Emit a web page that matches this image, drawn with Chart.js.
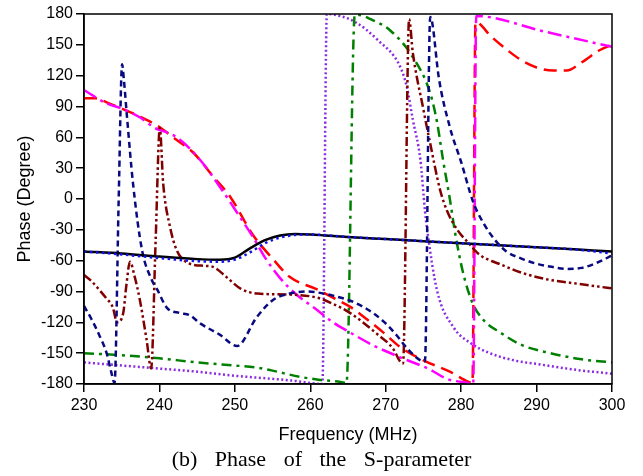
<!DOCTYPE html>
<html>
<head>
<meta charset="utf-8">
<script src="https://cdn.jsdelivr.net/npm/chart.js@4/dist/chart.umd.min.js"></script>
<style>
    body { margin: 0; background: #fff; }
    #wrap { position: relative; width: 643px; height: 476px; }
    #phaseChart { position: absolute; left: 0; top: 0; }
    #caption {
        position: absolute; left: 0; top: 441px; width: 643px; height: 36px;
        line-height: 36px; text-align: center;
        font-family: "Liberation Serif", "Times New Roman", serif;
        font-size: 22px; word-spacing: 12px; color: #000;
    }
</style>
</head>
<body>
<div id="wrap">
    <canvas id="phaseChart" width="643" height="446"></canvas>
    <div id="caption">(b) Phase of the S-parameter</div>
</div>
<script>
// axis ticks
const freqTicks = [230, 240, 250, 260, 270, 280, 290, 300];
const phaseTicks = [-180, -150, -120, -90, -60, -30, 0, 30, 60, 90, 120, 150, 180];

// black solid
const freqBlack = [230, 235, 240, 245, 248, 250, 252, 254, 256, 258, 260, 262, 265, 270, 275, 280, 285, 290, 295, 300];
const phaseBlack = [-51, -53, -56, -58.5, -59, -57, -48, -40, -35.5, -34, -34.5, -35.5, -37, -39, -41, -43, -45, -47, -49, -51];

// blue dotted (sits on the black one)
const freqBlue = [230, 235, 240, 245, 248, 250, 252, 254, 256, 258, 260, 265, 270, 275, 280, 285, 290, 295, 300];
const phaseBlue = [-51, -54, -57.5, -60.5, -61, -59, -52, -43, -37.5, -35, -34.5, -37, -39, -41, -43, -45, -47, -49, -53];

// navy dashed
const freqNavy = [230, 231, 232, 233, 233.6, 234.05, 234.6, 235.05, 235.3, 235.7, 236.5, 237.7, 239, 239.7, 241, 242.7, 244, 245.4, 248, 250.3, 252.9, 255.1, 257.3, 259.5, 261, 263, 265.3, 267.5, 269.7, 271.5, 272.8, 274.6, 275.2, 275.9, 276.2, 277, 278.5, 280, 281.6, 283, 284.5, 286, 288, 290, 292, 294, 296, 298, 300];
const phaseNavy = [-104, -117, -132, -150, -168, -179, 0, 131, 115, 80, 15, -50, -79, -88, -106, -111, -113, -121, -132, -143, -115, -98, -92, -90, -91, -94, -99, -107, -119, -133, -145, -157, -158, 177, 170, 120, 70, 36, -3, -24, -40, -51, -58, -63, -66, -68, -67, -62, -55];

// maroon dash-dot-dot
const freqMaroon = [230, 231, 232.1, 233, 233.8, 234.4, 235.2, 235.6, 236.1, 236.7, 237.4, 238.3, 238.9, 239.5, 240.05, 240.5, 241.4, 242.3, 243.3, 244.5, 246, 247.1, 248.9, 250.7, 253, 257.3, 260.9, 263, 265.3, 268.8, 271, 271.9, 272.3, 273.1, 273.6, 275, 275.9, 277.2, 278.1, 279.5, 281, 282.4, 285, 289, 292, 295, 300];
const phaseMaroon = [-74, -80, -89, -97, -105, -120, -111, -85, -61, -75, -98, -137, -165, -40, 69, 15, -27, -50, -60, -64, -65, -66, -76, -87, -92, -93, -96, -102, -111, -131, -146, -158, -160, 175, 142, 87, 54, 9, -11, -30, -43, -54, -63, -74, -79, -82, -87];

// red dashed
const freqRed = [230, 231.5, 233, 235, 237.5, 240, 241.8, 244.5, 247.1, 249.4, 252.4, 255, 257.3, 260.9, 263, 265.3, 267.5, 269.7, 271.9, 275, 278.5, 281, 281.5, 281.9, 284, 286.1, 288, 290, 292.2, 294, 296, 298.4, 300];
const phaseRed = [98, 98, 94, 88, 80, 70, 60, 45, 22, 2, -35, -58, -76, -88, -96, -105, -117, -130, -144, -157, -168, -178, -179, 172, 158, 145, 135, 128, 125, 125, 133, 145, 150];

// magenta dash-dot
const freqMagenta = [230, 233, 235, 237.5, 239.2, 242.3, 245.4, 248, 250, 252.4, 254, 256, 258, 260.9, 263, 265.3, 268.5, 271.9, 275.9, 278.1, 281, 281.6, 282, 291, 300];
const phaseMagenta = [106, 93, 88, 79, 70, 60, 38, 12, -10, -37, -57, -77, -92, -108, -120, -130, -143, -154, -166, -175, -179, -180, 178, 163, 148];

// green dash-dot
const freqGreen = [230, 235, 240, 245, 250, 252.9, 255, 258.6, 261.3, 264, 264.8, 265.9, 266.5, 268, 270.6, 273.6, 275.9, 276.8, 277.6, 278.5, 279.2, 280.2, 281.5, 283, 285.2, 288, 291.8, 296, 300];
const phaseGreen = [-150, -152, -155, -159, -162, -164, -167, -173, -176, -178, -179, 179, 179, 175, 164, 138, 103, 75, 38, 0, -33, -70, -101, -118, -130, -142, -150, -156, -159];

// purple dotted
const freqPurple = [230, 235, 240, 245, 250, 255, 258, 260, 261.6, 262.2, 264, 266, 268.9, 271.9, 272.8, 273.6, 274.6, 275.2, 275.5, 276.8, 279, 281.2, 283.8, 287, 290.5, 295, 300];
const phasePurple = [-159, -162, -165, -168, -172, -175, -177, -179, -180, 180, 178, 172, 155, 129, 109, 77, 38, -11, -30, -89, -125, -140, -150, -157, -161, -166, -170];

function toPoints(xs, ys) {
    return xs.map((x, i) => ({ x: x, y: ys[i] }));
}

function makeLine(xs, ys, color, dash) {
    return {
        data: toPoints(xs, ys),
        borderColor: color,
        borderDash: dash,
        borderWidth: 2.5,
        borderCapStyle: "butt",
        pointRadius: 0,
        fill: false,
        cubicInterpolationMode: "monotone"
    };
}

// top and right edges of the frame
const frameBox = {
    id: "frameBox",
    afterDatasetsDraw(chart) {
        const a = chart.chartArea;
        const ctx = chart.ctx;
        ctx.save();
        ctx.strokeStyle = "#000";
        ctx.lineWidth = 1.5;
        ctx.strokeRect(a.left, a.top, a.right - a.left, a.bottom - a.top);
        ctx.restore();
    }
};

Chart.defaults.font.family = "'Liberation Sans', Arial, sans-serif";
Chart.defaults.color = "#000";

const axisStyle = {
    grid: { drawOnChartArea: false, color: "#000", lineWidth: 1.5, tickLength: 8 },
    border: { color: "#000", width: 1.5 }
};

new Chart(document.getElementById("phaseChart"), {
    type: "line",
    data: {
        datasets: [
            makeLine(freqBlue, phaseBlue, "#1010ee", [2.5, 3.5]),
            makeLine(freqBlack, phaseBlack, "#000000", []),
            makeLine(freqNavy, phaseNavy, "#0a0a80", [6, 4]),
            makeLine(freqMaroon, phaseMaroon, "#800000", [9, 3, 2.5, 3, 2.5, 3]),
            makeLine(freqMagenta, phaseMagenta, "#ff00ff", [14, 5, 3, 5]),
            makeLine(freqRed, phaseRed, "#ff0000", [13, 7]),
            makeLine(freqGreen, phaseGreen, "#008000", [10, 5, 3, 5]),
            makeLine(freqPurple, phasePurple, "#8a2be2", [2, 2.5])
        ]
    },
    options: {
        responsive: false,
        animation: false,
        layout: { padding: { top: 14, right: 31, left: 0, bottom: 0 } },
        plugins: {
            legend: { display: false },
            tooltip: { enabled: false }
        },
        scales: {
            x: {
                type: "linear",
                min: 230,
                max: 300,
                afterBuildTicks: (scale) => { scale.ticks = freqTicks.map(v => ({ value: v })); },
                ticks: { font: { size: 16 }, padding: 4, maxRotation: 0 },
                title: { display: true, text: "Frequency (MHz)", font: { size: 18 }, padding: { top: 4, bottom: 0 } },
                afterFit: (scale) => { scale.height = 62; },
                ...axisStyle
            },
            y: {
                min: -180,
                max: 180,
                afterBuildTicks: (scale) => { scale.ticks = phaseTicks.map(v => ({ value: v })); },
                ticks: { font: { size: 16 }, padding: 3 },
                title: { display: true, text: "Phase (Degree)", font: { size: 18 }, padding: { top: 14, bottom: 0 } },
                afterFit: (scale) => { scale.width = 84; },
                ...axisStyle
            }
        }
    },
    plugins: [frameBox]
});
</script>
</body>
</html>
